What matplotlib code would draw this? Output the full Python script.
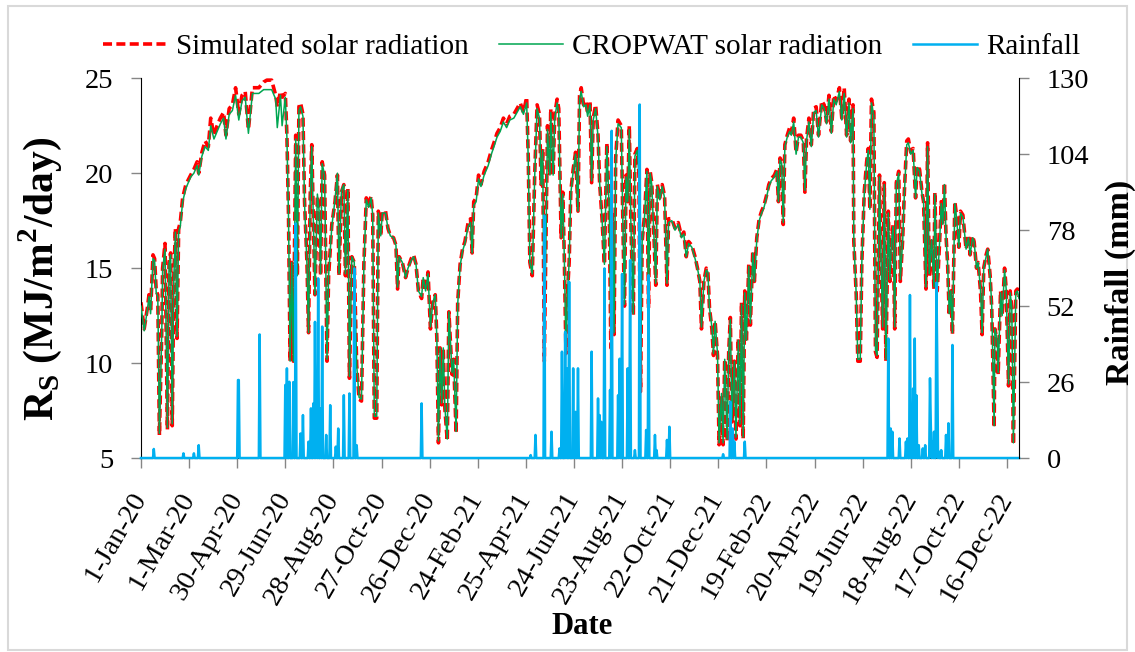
import numpy as np
import matplotlib
matplotlib.use("Agg")
import matplotlib.pyplot as plt
from matplotlib.patches import Rectangle
from matplotlib.transforms import ScaledTranslation

plt.rcParams['font.family'] = ['Liberation Serif', 'DejaVu Serif']
plt.rcParams['mathtext.fontset'] = 'custom'
plt.rcParams['mathtext.rm'] = 'Liberation Serif'
plt.rcParams['mathtext.bf'] = 'Liberation Serif:bold'

# x tick labels, one every 60 days from 1-Jan-20
tick_labels = ['1-Jan-20', '1-Mar-20', '30-Apr-20', '29-Jun-20', '28-Aug-20',
               '27-Oct-20', '26-Dec-20', '24-Feb-21', '25-Apr-21', '24-Jun-21',
               '23-Aug-21', '22-Oct-21', '21-Dec-21', '19-Feb-22', '20-Apr-22',
               '19-Jun-22', '18-Aug-22', '17-Oct-22', '16-Dec-22']

# day number (0 = 1-Jan-20) of the points
days = [0, 4, 8, 10, 12, 15, 17, 19, 21, 23,
        26, 27, 30, 33, 35, 37, 39, 41, 43, 45,
        47, 49, 52, 56, 62, 66, 70, 72, 76, 80,
        84, 87, 91, 95, 99, 103, 106, 110, 114, 118,
        122, 126, 130, 134, 139, 147, 153, 157, 163, 168,
        170, 174, 176, 180, 182, 184, 186, 188, 190, 193,
        195, 197, 199, 202, 204, 207, 209, 211, 213, 217,
        220, 222, 224, 226, 229, 232, 234, 238, 242, 245,
        247, 250, 253, 255, 258, 260, 263, 266, 269, 272,
        275, 277, 278, 281, 284, 287, 289, 291, 294, 296,
        299, 301, 305, 308, 311, 315, 318, 320, 322, 326,
        330, 333, 337, 340, 343, 346, 350, 352, 355, 358,
        361, 364, 367, 369, 371, 373, 375, 377, 379, 382,
        384, 388, 390, 393, 395, 398, 401, 404, 408, 411,
        413, 415, 418, 421, 424, 428, 433, 437, 441, 444,
        448, 452, 456, 460, 465, 469, 473, 477, 481, 483,
        485, 488, 491, 494, 497, 499, 501, 503, 505, 507,
        510, 511, 514, 516, 519, 521, 524, 526, 528, 530,
        532, 534, 536, 539, 542, 545, 547,
        549, 552, 555, 557, 560, 562, 564, 567, 570, 572,
        575, 578, 581, 584, 586, 588, 590, 592, 595, 599,
        601, 603, 605, 607, 609, 611, 614, 616, 619, 621,
        623, 625, 628, 631, 633, 635, 637, 640, 642, 644,
        647, 650, 653, 656, 658, 662, 666, 670, 674, 677,
        680, 683, 687, 691, 694, 697, 699, 702, 705, 707,
        709, 712, 714, 716, 719, 721, 724, 726, 728, 731,
        733, 735, 737, 740, 742, 745, 747, 749, 751, 753,
        755, 758, 760, 763, 765, 768, 771, 774, 777, 780,
        783, 786, 790, 793, 795, 797, 799, 801, 803, 806,
        809, 811, 814, 817, 820,
        823, 826, 828, 830, 833, 836, 839, 842, 845, 849,
        852, 855, 858, 861, 864, 867, 871, 874, 877, 880,
        883, 885, 888, 889, 892, 894, 897, 899, 902, 905,
        907, 909, 911, 914, 916, 918, 921, 923, 925, 927,
        929, 932, 934, 936, 938, 940, 942, 945, 947, 950,
        952, 955, 957, 960, 963, 966, 968, 971, 974, 976,
        979, 981, 983, 986, 989, 990, 993, 996, 998, 1000,
        1002, 1004, 1006, 1008, 1010, 1012, 1015, 1017, 1020, 1022,
        1025, 1027, 1029, 1032, 1034, 1037, 1039, 1042, 1044, 1047,
        1049, 1051, 1054, 1056, 1059, 1061, 1064, 1065, 1068, 1069,
        1072, 1074, 1077, 1079, 1082, 1084, 1086, 1088, 1089, 1091,
        1093, 1095]

# simulated solar radiation (MJ/m2/day)
sim_rs = [13.2, 11.8, 12.9, 13.6, 12.7, 15.7, 15.5, 13.8, 13.6, 6.2,
          11.8, 15.0, 16.3, 6.5, 15.3, 15.8, 6.7, 14.6, 17.1, 11.3,
          17.1, 17.4, 18.7, 19.4, 19.9, 20.2, 20.6, 20.0, 21.1, 21.7,
          21.4, 22.9, 22.0, 22.5, 22.9, 23.2, 22.0, 23.4, 23.6, 24.5,
          23.1, 24.1, 24.3, 22.3, 24.5, 24.5, 24.8, 24.9, 24.9, 24.1,
          23.5, 24.3, 24.0, 24.2, 22.0, 17.8, 10.1, 15.3, 10.1, 22.0,
          14.6, 23.5, 23.7, 23.1, 18.5, 15.3, 11.6, 18.7, 21.5, 13.6,
          18.8, 18.1, 14.6, 20.6, 19.9, 10.1, 14.6, 17.3, 18.5, 19.9,
          14.6, 19.0, 19.4, 14.6, 19.2, 9.2, 15.6, 15.3, 9.9, 8.1,
          8.0, 12.9, 15.2, 18.7, 18.3, 18.8, 17.8, 7.1, 7.1, 18.0,
          16.7, 18.0, 18.0, 17.1, 16.7, 16.6, 16.2, 13.9, 15.6, 15.3,
          14.5, 15.0, 15.5, 15.7, 15.2, 13.8, 13.4, 14.5, 13.8, 14.8,
          11.8, 13.2, 13.6, 11.3, 5.8, 10.8, 7.8, 10.8, 7.6, 5.9,
          12.7, 9.4, 10.2, 6.3, 13.2, 15.2, 16.0, 16.4, 17.4, 17.6,
          15.8, 18.5, 18.7, 19.9, 19.4, 20.1, 20.6, 21.2, 21.7, 22.1,
          22.4, 22.9, 22.6, 23.0, 23.1, 23.4, 23.7, 23.2, 24.0, 20.8,
          15.3, 14.6, 19.9, 23.6, 23.1, 19.4, 21.3, 10.1, 16.4, 22.5,
          19.9, 23.4, 19.9, 23.1, 23.9, 23.4, 16.6, 19.0, 15.5, 10.5,
          13.8, 15.3, 19.0, 20.2, 21.1, 18.0, 24.1,
          24.5, 23.6, 23.8, 23.1, 23.8, 19.5, 22.9, 23.6, 22.0, 19.5,
          17.6, 15.2, 21.6, 18.1, 10.8, 17.8, 11.5, 20.8, 22.8, 22.5,
          17.3, 13.0, 19.9, 18.5, 22.5, 17.3, 12.5, 21.0, 21.3, 19.9,
          8.5, 16.4, 17.8, 20.2, 12.9, 20.1, 19.5, 16.4, 14.1, 19.4,
          18.7, 19.4, 18.8, 14.1, 17.6, 17.6, 17.1, 17.4, 16.7, 16.9,
          15.6, 16.4, 16.2, 15.6, 15.0, 14.3, 11.8, 14.3, 15.0, 14.8,
          12.9, 11.8, 10.4, 12.2, 10.4, 5.7, 8.3, 5.7, 10.2, 5.9,
          10.6, 12.4, 6.9, 10.1, 6.0, 11.3, 6.7, 13.2, 6.0, 13.8,
          11.1, 15.2, 12.0, 15.9, 14.3, 16.6, 17.6, 18.0, 18.3, 18.8,
          19.4, 19.7, 19.9, 20.2, 18.5, 20.8, 20.6, 17.3, 21.5, 22.0,
          22.4, 22.1, 22.9, 21.1, 22.0,
          22.0, 21.7, 19.0, 21.8, 22.9, 21.5, 23.4, 23.5, 22.0, 23.8,
          23.6, 22.7, 24.1, 22.2, 24.1, 23.8, 24.5, 22.9, 24.5, 22.0,
          23.9, 21.7, 23.6, 16.4, 13.6, 10.1, 10.1, 15.3, 19.0, 20.6,
          21.3, 18.1, 23.9, 23.2, 10.6, 10.3, 19.9, 15.3, 11.8, 19.5,
          10.1, 18.0, 14.3, 16.4, 17.3, 11.8, 19.5, 20.1, 14.3, 16.6,
          19.0, 21.7, 21.8, 21.1, 21.3, 18.7, 20.4, 20.2, 19.0, 18.5,
          13.9, 21.6, 14.6, 16.6, 13.9, 19.0, 13.8, 16.4, 18.5, 17.3,
          19.5, 16.7, 15.2, 12.5, 13.8, 11.5, 18.5, 17.8, 16.1, 18.0,
          17.8, 16.9, 16.0, 16.7, 15.7, 16.7, 16.4, 15.0, 15.3, 13.8,
          11.5, 15.0, 15.7, 16.0, 14.6, 12.9, 6.6, 11.8, 11.1, 9.4,
          13.8, 12.5, 15.0, 13.9, 8.8, 13.8, 12.9, 5.7, 8.3, 13.8,
          13.9, 13.5]

# CROPWAT solar radiation (MJ/m2/day)
crop_rs = [13.0, 11.7, 12.8, 13.5, 12.6, 15.5, 15.4, 13.7, 13.5, 6.3,
           11.7, 14.9, 16.0, 6.6, 15.2, 15.7, 6.8, 14.5, 16.9, 11.4,
           16.9, 17.2, 18.5, 19.2, 19.8, 20.0, 20.4, 19.9, 20.9, 21.4,
           21.2, 22.5, 21.8, 22.2, 22.6, 22.9, 21.8, 23.1, 23.3, 24.1,
           22.8, 23.8, 24.0, 22.1, 24.2, 24.2, 24.4, 24.4, 24.4, 23.9,
           22.4, 24.1, 22.5, 24.0, 21.9, 17.7, 10.1, 15.3, 10.1, 21.8,
           14.6, 23.3, 23.5, 23.0, 18.4, 15.2, 11.6, 18.6, 21.4, 13.6,
           18.9, 18.1, 14.7, 20.5, 19.9, 10.2, 14.6, 17.2, 18.6, 20.0,
           14.7, 19.1, 19.4, 14.7, 19.1, 9.3, 15.6, 15.3, 9.9, 8.2,
           8.1, 12.8, 15.1, 18.6, 18.2, 18.7, 17.8, 7.2, 7.2, 17.9,
           16.7, 17.9, 17.9, 17.1, 16.7, 16.6, 16.2, 14.0, 15.6, 15.3,
           14.5, 15.0, 15.4, 15.6, 15.2, 13.8, 13.5, 14.5, 13.8, 14.7,
           11.9, 13.2, 13.6, 11.3, 5.9, 10.8, 7.9, 10.8, 7.7, 6.0,
           12.7, 9.5, 10.2, 6.4, 13.1, 15.1, 15.9, 16.3, 17.2, 17.4,
           15.8, 18.3, 18.5, 19.7, 19.3, 19.9, 20.4, 21.0, 21.5, 21.9,
           22.2, 22.7, 22.4, 22.8, 22.9, 23.2, 23.5, 23.1, 23.7, 20.7,
           15.3, 14.7, 19.8, 23.4, 22.9, 19.4, 21.2, 10.2, 16.4, 22.3,
           19.9, 23.2, 19.9, 22.9, 23.7, 23.2, 16.6, 18.9, 15.5, 10.6,
           13.8, 15.3, 18.9, 20.1, 21.0, 18.0, 23.9,
           24.3, 23.5, 23.6, 23.0, 23.6, 19.6, 22.8, 23.4, 21.9, 19.5,
           17.6, 15.2, 21.4, 18.1, 10.9, 17.7, 11.6, 20.7, 22.6, 22.4,
           17.3, 13.1, 19.8, 18.5, 22.3, 17.3, 12.6, 20.9, 21.2, 19.8,
           8.6, 16.4, 17.7, 20.1, 13.0, 20.0, 19.4, 16.4, 14.2, 19.3,
           18.6, 19.3, 18.7, 14.2, 17.4, 17.5, 17.0, 17.3, 16.6, 16.8,
           15.6, 16.3, 16.1, 15.5, 15.0, 14.3, 11.9, 14.3, 14.9, 14.8,
           12.9, 11.9, 10.5, 12.2, 10.5, 5.8, 8.4, 5.8, 10.2, 6.0,
           10.6, 12.3, 7.0, 10.1, 6.1, 11.2, 6.8, 13.1, 6.1, 13.7,
           11.2, 15.1, 12.1, 15.8, 14.3, 16.5, 17.5, 17.9, 18.2, 18.7,
           19.3, 19.6, 19.8, 20.1, 18.5, 20.7, 20.5, 17.4, 21.4, 21.9,
           22.2, 22.0, 22.7, 21.0, 21.9,
           21.9, 21.6, 19.1, 21.7, 22.7, 21.4, 23.2, 23.3, 21.9, 23.6,
           23.4, 22.6, 23.9, 22.1, 23.9, 23.6, 24.3, 22.8, 24.2, 21.9,
           23.7, 21.6, 23.4, 16.5, 13.6, 10.2, 10.2, 15.3, 18.9, 20.5,
           21.2, 18.1, 23.7, 23.0, 10.7, 10.4, 19.8, 15.3, 11.9, 19.4,
           10.2, 17.9, 14.4, 16.4, 17.2, 11.9, 19.4, 20.0, 14.4, 16.5,
           18.9, 21.5, 21.6, 21.0, 21.2, 18.7, 20.3, 20.1, 18.9, 18.5,
           14.0, 21.4, 14.7, 16.5, 14.0, 18.9, 13.9, 16.4, 18.4, 17.3,
           19.4, 16.7, 15.2, 12.6, 13.8, 11.6, 18.4, 17.7, 16.1, 17.9,
           17.7, 16.9, 16.0, 16.6, 15.7, 16.6, 16.4, 15.0, 15.3, 13.9,
           11.6, 15.0, 15.6, 16.0, 14.6, 13.0, 6.7, 11.8, 11.2, 9.5,
           13.7, 12.5, 14.9, 13.9, 8.9, 13.7, 12.9, 5.8, 8.4, 13.7,
           13.8, 13.4]

# rainy days (day number) and rainfall (mm); all other days are dry
rain_days = [16, 53, 66, 72, 121, 122, 148, 180, 182, 185,
             190, 193, 199, 202, 209, 212, 215, 217, 219, 221,
             224, 226, 231, 236, 243, 246, 253, 260, 266, 269,
             350, 486, 492, 503, 512, 522, 525, 529, 531, 534,
             539, 542, 545, 562, 570, 572, 574, 578, 585, 587,
             595, 597, 600, 607, 610, 616, 622, 630, 633, 641,
             643, 656, 659, 726, 735, 738, 740, 753,
             932, 935, 937, 946, 954, 956, 959, 961, 963, 965,
             967, 970, 975, 978, 984, 985, 987, 989, 992, 993,
             995, 998, 1004, 1007, 1012]
rain_mm = [3.1, 1.6, 1.6, 4.4, 26.7, 26.7, 42.3, 25.0, 30.7, 26.1,
           26.0, 80.3, 8.4, 14.7, 5.6, 17.0, 18.7, 46.6, 22.7, 61.5,
           17.0, 45.0, 7.9, 18.1, 3.9, 10.1, 21.5, 22.1, 64.9, 4.4,
           18.7, 1.0, 7.9, 83.0, 9.0, 3.3, 36.4, 43.2, 30.7, 60.3,
           30.7, 15.8, 30.7, 36.4, 20.4, 14.7, 12.4, 64.9, 23.3, 112.0,
           21.5, 34.0, 63.0, 30.7, 67.7, 2.7, 121.0, 9.6, 62.6, 7.9,
           2.7, 6.2, 10.7, 1.3, 19.3, 10.1, 5.6, 5.6,
           40.9, 10.1, 9.0, 6.7, 5.6, 6.7, 55.8, 17.0, 23.8, 40.9,
           21.5, 4.4, 3.3, 4.4, 27.3, 11.3, 5.6, 9.0, 60.0, 35.2,
           2.2, 2.7, 7.9, 11.9, 38.7]

rain = np.zeros(1096)
rain[rain_days] = rain_mm

fig = plt.figure(figsize=(11.35, 6.52), dpi=100)
ax = fig.add_axes([0.1242, 0.2975, 0.7736, 0.5825])
ax.plot(days, sim_rs, color='#FF0000', ls=(0, (2.5, 1.2)), lw=2.6,
        label='Simulated solar radiation', zorder=2)
ax.plot(days, crop_rs, color='#00A651', lw=1.1,
        label='CROPWAT solar radiation', zorder=3)
ax.set_xlim(0, 1095)
ax.set_ylim(5, 25)
ax.set_yticks([5, 10, 15, 20, 25])
ax.set_xticks(range(0, 1081, 60))
ax.set_xticklabels(tick_labels, rotation=60, ha='right', va='center',
                   rotation_mode='anchor')
for lab in ax.get_xticklabels():
    lab.set_transform(lab.get_transform()
                      + ScaledTranslation(0.13, 0, fig.dpi_scale_trans))
ax.tick_params(axis='both', direction='out', length=7, width=1,
               color='#868686', labelsize=20.5, pad=13)
ax.tick_params(axis='x', pad=19)
ax.spines['top'].set_visible(False)
ax.spines['right'].set_visible(False)

ax2 = ax.twinx()
ax2.plot(np.arange(1096), rain, color='#00B0F0', lw=1.8, label='Rainfall',
         clip_on=False)
ax2.set_ylim(0, 130)
ax2.set_yticks([0, 26, 52, 78, 104, 130])
ax2.tick_params(axis='y', direction='out', length=7, width=1,
                color='#868686', labelsize=20.5, pad=13)
ax2.spines['top'].set_visible(False)
ax2.spines['left'].set_visible(False)
ax2.spines['bottom'].set_visible(False)

h1, l1 = ax.get_legend_handles_labels()
h2, l2 = ax2.get_legend_handles_labels()
fig.legend(h1 + h2, l1 + l2, loc='center', bbox_to_anchor=(0.521, 0.928),
           ncol=3, frameon=False, fontsize=21, handlelength=2.2,
           handletextpad=0.3, columnspacing=1.05)

fig.text(40 / 1135, 1 - 279 / 652, r'$\mathbf{R_S}$ (MJ/m$^\mathbf{2}$/day)',
         rotation=90, ha='center', va='center', fontsize=30, fontweight='bold')
fig.text(1120 / 1135, 1 - 282 / 652, 'Rainfall (mm)', rotation=90,
         ha='center', va='center', fontsize=24.5, fontweight='bold')
fig.text(582 / 1135, 1 - 634 / 652, 'Date', ha='center', va='baseline',
         fontsize=22, fontweight='bold')

fig.patches.append(Rectangle((8 / 1135, 2 / 652), 1119 / 1135, 644 / 652,
                             transform=fig.transFigure, fill=False,
                             ec='#D9D9D9', lw=1.5))

fig.savefig('out.png', dpi=100)
